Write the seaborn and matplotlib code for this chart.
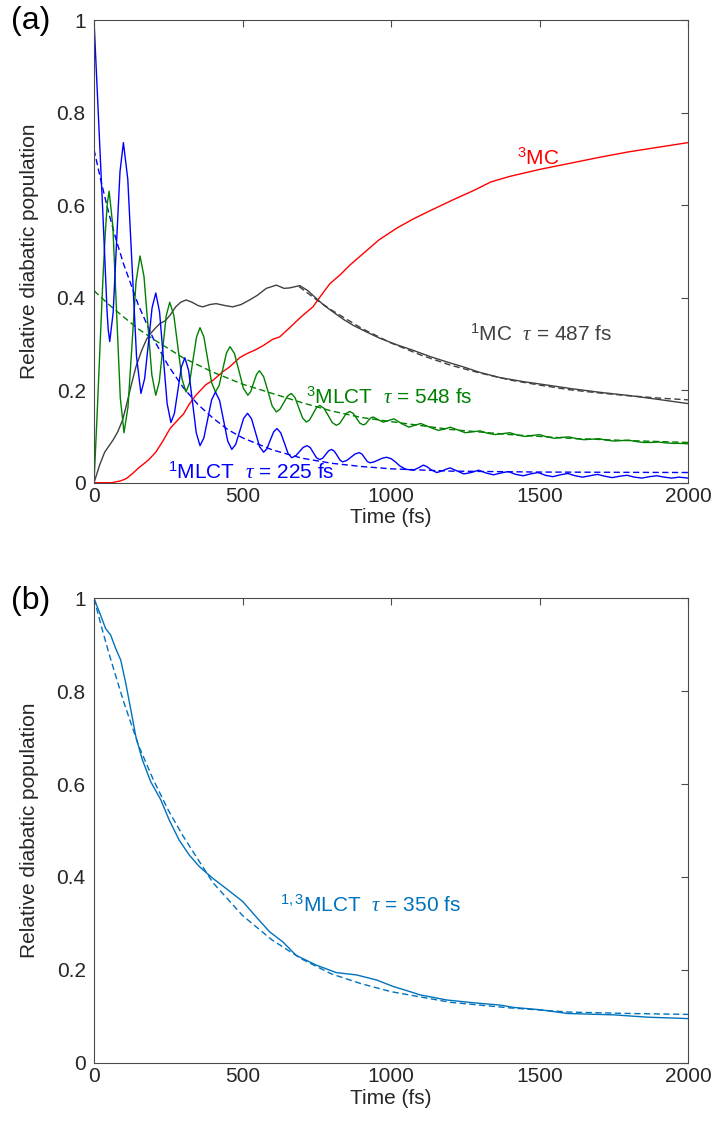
import numpy as np
import pandas as pd
import matplotlib
matplotlib.use("Agg")
import matplotlib.pyplot as plt
import seaborn as sns

# ---------------- data ----------------
# panel (a) 1MLCT (blue, solid)
t_1mlct = [0, 10, 20, 30, 38, 44, 48, 53, 64.5, 76, 87.5, 99, 113.75, 128.5, 143.25, 158, 170.5, 183,
           195.5, 208, 220.75, 233.5, 246.25, 259, 270.75, 282.5, 294.25, 306, 318.75, 331.5, 344.25,
           357, 370, 383, 396, 409, 422.75, 436.5, 450.25, 464, 477.25, 490.5, 503.75, 517, 530.5, 544,
           557.5, 571, 582, 593.5, 605, 616, 628.5, 641, 653.5, 666, 679, 691.5, 704, 717, 728, 738.5,
           749, 760, 770, 780, 790, 800, 809, 818.5, 828, 837, 851, 865, 879, 893, 902, 911, 920, 929,
           943, 957, 971, 985, 1000, 1015, 1030, 1050, 1075, 1092, 1109, 1120, 1135, 1154, 1170, 1185,
           1199, 1220, 1245, 1270, 1295, 1320, 1345, 1370, 1395, 1420, 1445, 1470, 1495, 1520, 1545,
           1570, 1595, 1620, 1645, 1670, 1695, 1720, 1745, 1770, 1795, 1820, 1845, 1870, 1895, 1920,
           1945, 1970, 2000]
v_1mlct = [1.00, 0.86, 0.72, 0.58, 0.46, 0.37, 0.33, 0.305, 0.368, 0.52, 0.672, 0.735, 0.656, 0.464,
           0.272, 0.193, 0.225, 0.30, 0.378, 0.41, 0.369, 0.27, 0.171, 0.13, 0.15, 0.20, 0.25, 0.27,
           0.242, 0.175, 0.108, 0.08, 0.097, 0.138, 0.179, 0.196, 0.178, 0.134, 0.09, 0.072, 0.083,
           0.111, 0.139, 0.15, 0.138, 0.108, 0.078, 0.066, 0.073, 0.092, 0.11, 0.117, 0.108, 0.086,
           0.063, 0.054, 0.058, 0.067, 0.076, 0.08, 0.076, 0.065, 0.054, 0.05, 0.053, 0.061, 0.069,
           0.072, 0.068, 0.059, 0.049, 0.045, 0.048, 0.055, 0.062, 0.065, 0.062, 0.054, 0.046, 0.043,
           0.045, 0.049, 0.053, 0.055, 0.052, 0.045, 0.036, 0.029, 0.027, 0.032, 0.038, 0.035, 0.028,
           0.022, 0.025, 0.029, 0.032, 0.026, 0.019, 0.022, 0.027, 0.021, 0.017, 0.021, 0.024, 0.018,
           0.015, 0.019, 0.022, 0.016, 0.013, 0.017, 0.020, 0.015, 0.012, 0.015, 0.018, 0.014, 0.011,
           0.014, 0.016, 0.012, 0.010, 0.013, 0.015, 0.012, 0.010, 0.012, 0.010]
# 1MLCT fit (blue, dashed)
t_1mlct_fit = [0, 25, 50, 75, 100, 150, 200, 250, 300, 350, 400, 450, 500, 600, 700, 800, 900, 1000,
               1200, 1500, 2000]
v_1mlct_fit = [0.72, 0.648, 0.582, 0.524, 0.472, 0.383, 0.311, 0.253, 0.206, 0.169, 0.140, 0.115,
               0.097, 0.071, 0.053, 0.042, 0.035, 0.030, 0.025, 0.023, 0.022]

# 3MLCT (green, solid)
t_3mlct = [0, 10, 20, 30, 38, 45, 51, 63.5, 76, 88.5, 101, 114.5, 128, 141.5, 155, 168.25, 181.5,
           194.75, 208, 219.75, 231.5, 243.25, 255, 268.75, 282.5, 296.25, 310, 321.75, 333.5, 345.25,
           357, 370, 383, 396, 409, 421.25, 433.5, 445.75, 458, 473, 488, 503, 518, 527.75, 537.5,
           547.25, 557, 571.25, 585.5, 599.75, 614, 626.5, 639, 651.5, 664, 676.75, 689.5, 702.25, 715,
           726.25, 737.5, 748.75, 760, 774, 788, 802, 816, 827.25, 838.5, 849.75, 861, 872.25, 883.5,
           894.75, 906, 914.5, 923, 931.5, 940, 957, 974, 990, 1010, 1035, 1060, 1080, 1100, 1130,
           1160, 1180, 1200, 1225, 1250, 1275, 1300, 1325, 1350, 1375, 1400, 1425, 1450, 1475, 1500,
           1525, 1550, 1575, 1600, 1625, 1650, 1675, 1700, 1725, 1750, 1775, 1800, 1825, 1850, 1875,
           1900, 1925, 1950, 1975, 2000]
v_3mlct = [0.0, 0.14, 0.29, 0.44, 0.54, 0.605, 0.63, 0.554, 0.369, 0.184, 0.108, 0.164, 0.299, 0.434,
           0.49, 0.446, 0.34, 0.233, 0.189, 0.218, 0.29, 0.361, 0.39, 0.362, 0.293, 0.224, 0.196,
           0.216, 0.266, 0.315, 0.335, 0.315, 0.266, 0.216, 0.196, 0.21, 0.245, 0.28, 0.294, 0.279,
           0.242, 0.204, 0.189, 0.197, 0.216, 0.234, 0.242, 0.229, 0.198, 0.166, 0.153, 0.159, 0.173,
           0.187, 0.193, 0.184, 0.162, 0.14, 0.131, 0.136, 0.149, 0.162, 0.167, 0.161, 0.146, 0.13,
           0.124, 0.128, 0.139, 0.15, 0.154, 0.15, 0.14, 0.129, 0.125, 0.127, 0.134, 0.14, 0.142, 0.136,
           0.131, 0.134, 0.138, 0.128, 0.120, 0.124, 0.128, 0.120, 0.113, 0.116, 0.120, 0.114, 0.108,
           0.110, 0.112, 0.107, 0.104, 0.106, 0.108, 0.103, 0.100, 0.102, 0.104, 0.099, 0.096, 0.098,
           0.099, 0.095, 0.093, 0.094, 0.095, 0.092, 0.090, 0.091, 0.092, 0.089, 0.087, 0.087, 0.088,
           0.086, 0.085, 0.085, 0.084]
# 3MLCT fit (green, dashed)
t_3mlct_fit = [0, 50, 100, 150, 200, 300, 400, 500, 600, 700, 800, 900, 1000, 1200, 1400, 1600, 1800,
               2000]
v_3mlct_fit = [0.415, 0.385, 0.358, 0.332, 0.310, 0.270, 0.239, 0.213, 0.193, 0.173, 0.155, 0.141,
               0.132, 0.115, 0.104, 0.096, 0.091, 0.087]

# 1MC (dark grey, solid)
t_1mc = [0, 20, 36, 51, 64, 80, 96, 109, 125, 141, 160, 177, 190, 205, 222, 240, 256, 275, 292, 310,
         330, 350, 366, 390, 411, 440, 467, 495, 524, 550, 580, 614, 640, 659, 693, 720, 749, 775, 805,
         840, 873, 920, 963, 1020, 1075, 1130, 1188, 1245, 1301, 1368, 1450, 1526, 1610, 1695, 1750,
         1807, 1900, 2000]
v_1mc = [0.0, 0.04, 0.066, 0.08, 0.092, 0.11, 0.135, 0.167, 0.21, 0.25, 0.285, 0.31, 0.322, 0.333,
         0.344, 0.35, 0.362, 0.38, 0.39, 0.395, 0.39, 0.383, 0.38, 0.385, 0.387, 0.383, 0.38, 0.385,
         0.395, 0.405, 0.42, 0.427, 0.42, 0.421, 0.426, 0.415, 0.398, 0.383, 0.369, 0.353, 0.34, 0.325,
         0.312, 0.298, 0.286, 0.273, 0.261, 0.25, 0.238, 0.227, 0.218, 0.211, 0.203, 0.196, 0.192,
         0.188, 0.18, 0.171]
# 1MC fit (dark grey, dashed)
t_1mc_fit = [690, 750, 800, 900, 1000, 1100, 1200, 1300, 1400, 1500, 1600, 1700, 1800, 1900, 2000]
v_1mc_fit = [0.424, 0.395, 0.373, 0.334, 0.302, 0.276, 0.254, 0.237, 0.222, 0.211, 0.201, 0.194,
             0.188, 0.183, 0.179]

# 3MC (red, solid)
t_3mc = [0, 60, 90, 109, 130, 152, 166, 185, 208, 230, 256, 287, 301, 321, 343, 377, 400, 434, 456,
         490, 512, 546, 569, 602, 625, 659, 700, 737, 765, 794, 830, 861, 906, 960, 1019, 1075, 1132,
         1211, 1280, 1336, 1400, 1500, 1600, 1700, 1800, 1900, 2000]
v_3mc = [0.0, 0.0, 0.004, 0.009, 0.02, 0.033, 0.04, 0.05, 0.066, 0.088, 0.117, 0.139, 0.148, 0.17,
         0.189, 0.212, 0.221, 0.24, 0.25, 0.27, 0.278, 0.288, 0.296, 0.31, 0.315, 0.335, 0.36, 0.38,
         0.405, 0.43, 0.45, 0.47, 0.495, 0.525, 0.55, 0.57, 0.588, 0.612, 0.632, 0.65, 0.662, 0.677,
         0.69, 0.703, 0.715, 0.725, 0.735]

# panel (b) 1,3MLCT (solid) and fit (dashed)
t_13mlct = [0, 22, 39, 56, 73, 90, 107, 124, 141, 163, 191, 225, 253, 287, 321, 355, 400, 445, 501,
            546, 591, 636, 681, 749, 816, 884, 952, 1008, 1064, 1098, 1188, 1278, 1368, 1413, 1503,
            1593, 1751, 1864, 2000]
v_13mlct = [1.0, 0.964, 0.935, 0.921, 0.892, 0.867, 0.817, 0.76, 0.702, 0.652, 0.605, 0.566, 0.523,
            0.479, 0.447, 0.422, 0.397, 0.375, 0.347, 0.314, 0.282, 0.26, 0.231, 0.21, 0.194, 0.189,
            0.178, 0.164, 0.153, 0.146, 0.135, 0.129, 0.124, 0.119, 0.114, 0.106, 0.103, 0.098, 0.095]
t_13mlct_fit = [0, 25, 50, 75, 100, 150, 200, 250, 300, 400, 500, 600, 700, 800, 900, 1000, 1200,
                1400, 1600, 1800, 2000]
v_13mlct_fit = [1.0, 0.939, 0.882, 0.829, 0.777, 0.683, 0.609, 0.544, 0.488, 0.388, 0.317, 0.264,
                0.223, 0.191, 0.170, 0.153, 0.130, 0.118, 0.109, 0.106, 0.104]

x_ticks = [0, 500, 1000, 1500, 2000]
y_ticks = [0, 0.2, 0.4, 0.6, 0.8, 1]
y_tick_labels = ["0", "0.2", "0.4", "0.6", "0.8", "1"]

# ---------------- styling ----------------
sns.set_theme(style="white")
plt.rcParams["font.family"] = ["Liberation Sans", "DejaVu Sans"]
plt.rcParams["mathtext.fontset"] = "custom"
plt.rcParams["mathtext.rm"] = "Liberation Sans"
plt.rcParams["mathtext.it"] = "Liberation Serif:italic"
plt.rcParams["mathtext.bf"] = "Liberation Sans:bold"

TXT = "#262626"
AXC = "#4a4a4a"
BLUE = "#0000ff"
GREEN = "#008000"
GREY = "#404040"
RED = "#ff0000"
MBLUE = "#0072bd"

fig = plt.figure(figsize=(7.19, 11.33), dpi=100)
ax_a = fig.add_axes([94 / 719, 1 - 482.7 / 1133, 594 / 719, 462.7 / 1133])
ax_b = fig.add_axes([94 / 719, 1 - 1062.7 / 1133, 594 / 719, 464.4 / 1133])

LW = 1.0
DASH = (4.5, 2.5)


def line(ax, t, v, color, dashed=False):
    df = pd.DataFrame({"t": t, "v": v})
    kw = dict(color=color, linewidth=LW, estimator=None, ax=ax, legend=False)
    sns.lineplot(data=df, x="t", y="v", **kw)
    ln = ax.lines[-1]
    ln.set_solid_joinstyle("round")
    ln.set_solid_capstyle("round")
    if dashed:
        ln.set_dashes(DASH)


# panel (a)
line(ax_a, t_1mlct_fit, v_1mlct_fit, BLUE, dashed=True)
line(ax_a, t_3mlct_fit, v_3mlct_fit, GREEN, dashed=True)
line(ax_a, t_1mc_fit, v_1mc_fit, GREY, dashed=True)
line(ax_a, t_3mc, v_3mc, RED)
line(ax_a, t_1mc, v_1mc, GREY)
line(ax_a, t_3mlct, v_3mlct, GREEN)
line(ax_a, t_1mlct, v_1mlct, BLUE)

# panel (b)
line(ax_b, t_13mlct_fit, v_13mlct_fit, MBLUE, dashed=True)
line(ax_b, t_13mlct, v_13mlct, MBLUE)

FS = 15
for ax, xlab_y in ((ax_a, -0.076), (ax_b, -0.077)):
    ax.set_xlim(0, 2000)
    ax.set_ylim(0, 1)
    ax.set_xticks(x_ticks)
    ax.set_xticklabels([str(x) for x in x_ticks])
    ax.set_yticks(y_ticks)
    ax.set_yticklabels(y_tick_labels)
    ax.tick_params(direction="in", top=True, right=True, length=5, width=0.8,
                   color=AXC, labelsize=FS, labelcolor=TXT)
    ax.tick_params(axis="x", pad=3)
    ax.tick_params(axis="y", pad=6)
    for s in ax.spines.values():
        s.set_visible(True)
        s.set_color(AXC)
        s.set_linewidth(0.8)
    ax.set_xlabel("Time (fs)", fontsize=FS, color=TXT)
    ax.set_ylabel("Relative diabatic population", fontsize=FS, color=TXT)
    ax.xaxis.set_label_coords(0.5, xlab_y)
    ax.xaxis.label.set_va("center")
    ax.yaxis.set_label_coords(-0.108, 0.5)
    ax.yaxis.label.set_va("center")
    ax.set_facecolor("white")

# annotations panel (a)
ax_a.text(1424, 0.686, r"$^{3}$MC", color=RED, fontsize=FS, va="baseline", ha="left")
ax_a.text(1266, 0.306, r"$^{1}$MC  $\tau$ = 487 fs", color=GREY, fontsize=FS, va="baseline", ha="left")
ax_a.text(714, 0.170, r"$^{3}$MLCT  $\tau$ = 548 fs", color=GREEN, fontsize=FS, va="baseline", ha="left")
ax_a.text(249, 0.008, r"$^{1}$MLCT  $\tau$ = 225 fs", color=BLUE, fontsize=FS, va="baseline", ha="left")
# annotation panel (b)
ax_b.text(626, 0.3245, r"$^{1,3}$MLCT  $\tau$ = 350 fs", color=MBLUE, fontsize=FS, va="baseline", ha="left")

fig.text(11 / 719, 1 - 6 / 1133, "(a)", fontsize=23, color="black", va="top", ha="left")
fig.text(11 / 719, 1 - 586 / 1133, "(b)", fontsize=23, color="black", va="top", ha="left")

fig.savefig("out.png", dpi=100, facecolor="white")
